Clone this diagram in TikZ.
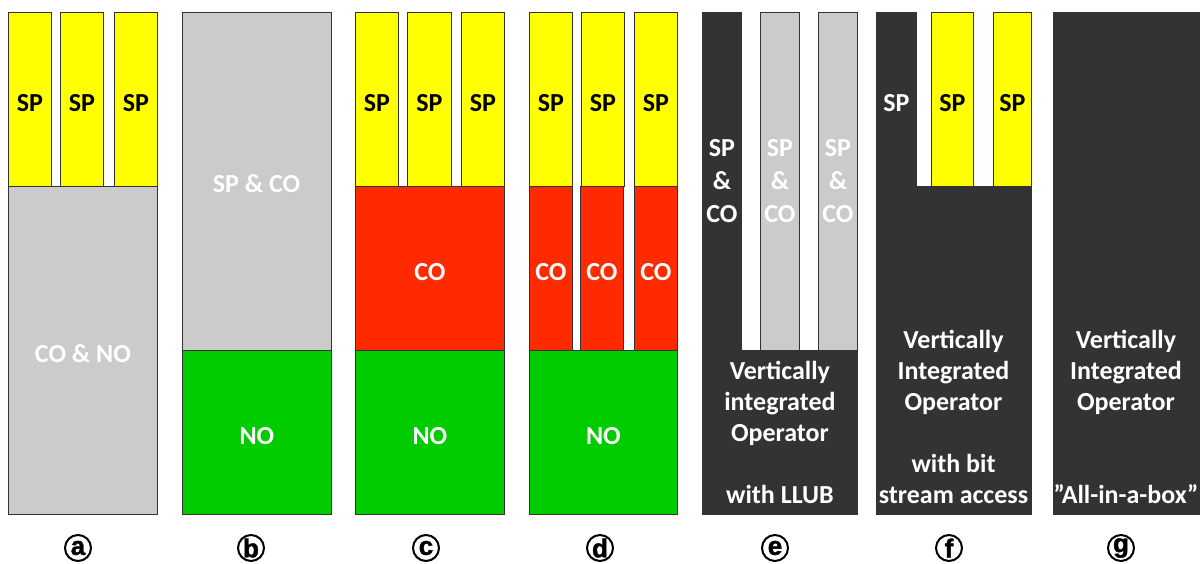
\documentclass[tikz,border=0pt]{standalone}
\usepackage{fontspec}
\setmainfont{Carlito}
\newfontfamily\circfont{Liberation Sans Bold}[FakeBold=1.5]
\definecolor{spy}{HTML}{FFFF00}
\definecolor{lg}{HTML}{CBCBCB}
\definecolor{rd}{HTML}{FF2A00}
\definecolor{gr}{HTML}{00CC00}
\definecolor{dk}{HTML}{333333}
\begin{document}
\begin{tikzpicture}[x=1pt,y=-1pt,
  blk/.style={draw=black!80, line width=0.9pt, anchor=north west, inner sep=0pt,
    font=\fontsize{26}{31}\selectfont\bfseries, align=center},
  lo/.style={text height=24pt, text depth=0pt},
  ybar/.style={blk, lo, fill=spy, text=black, minimum height=174pt},
  txt/.style={font=\fontsize{26}{31}\selectfont\bfseries, text=white, align=center, inner sep=0pt},
  circ/.style={circle, draw=black, line width=2pt, minimum size=26pt, inner sep=0pt,
    font=\circfont\fontsize{26}{26}\selectfont}]
\useasboundingbox (0,0) rectangle (1200,563);
% a
\node[ybar, minimum width=43pt] (a1) at (8,12) {SP};
\node[ybar, minimum width=43pt] (a2) at (60,12) {SP};
\node[ybar, minimum width=43pt] (a3) at (114,12) {SP};
\node[blk, lo, fill=lg, text=white, minimum width=149pt, minimum height=328pt] (a4) at (8,186) {CO \& NO};
% b
\node[blk, fill=lg, minimum width=149pt, minimum height=338pt] (b1) at (182,12) {};
\node[txt] (b1t) at (256.5,184) {SP \& CO};
\node[blk, lo, fill=gr, text=white, minimum width=149pt, minimum height=164pt] (b2) at (182,350) {NO};
% c
\node[ybar, minimum width=43pt] (c1) at (355,12) {SP};
\node[ybar, minimum width=44pt] (c2) at (407,12) {SP};
\node[ybar, minimum width=43pt] (c3) at (461,12) {SP};
\node[blk, lo, fill=rd, text=white, minimum width=149pt, minimum height=164pt] (c4) at (355,186) {CO};
\node[blk, lo, fill=gr, text=white, minimum width=149pt, minimum height=164pt] (c5) at (355,350) {NO};
% d
\node[ybar, minimum width=43pt] (d1) at (529,12) {SP};
\node[ybar, minimum width=43pt] (d2) at (581,12) {SP};
\node[ybar, minimum width=43pt] (d3) at (634,12) {SP};
\node[blk, lo, fill=rd, text=white, minimum width=43pt, minimum height=164pt] (d4) at (529,186) {CO};
\node[blk, lo, fill=rd, text=white, minimum width=43pt, minimum height=164pt] (d5) at (580,186) {CO};
\node[blk, lo, fill=rd, text=white, minimum width=43pt, minimum height=164pt] (d6) at (634,186) {CO};
\node[blk, lo, fill=gr, text=white, minimum width=148pt, minimum height=164pt] (d7) at (529,350) {NO};
% e
\node[blk, fill=dk, text=white, minimum width=39pt, minimum height=338pt, font=\fontsize{26}{33}\selectfont\bfseries] (e1) at (702,12) {SP\\\&\\CO};
\node[blk, fill=lg, text=white, minimum width=39pt, minimum height=338pt, font=\fontsize{26}{33}\selectfont\bfseries] (e2) at (760,12) {SP\\\&\\CO};
\node[blk, fill=lg, text=white, minimum width=39pt, minimum height=338pt, font=\fontsize{26}{33}\selectfont\bfseries] (e3) at (818,12) {SP\\\&\\CO};
\node[blk, fill=dk, text=white, minimum width=155pt, minimum height=164pt] (e4) at (702,350) {Vertically\\integrated\\Operator\\[31pt]with LLUB};
% f
\node[blk, lo, fill=dk, text=white, minimum width=40pt, minimum height=174pt] (f1) at (876,12) {SP};
\node[ybar, minimum width=42pt] (f2) at (931,12) {SP};
\node[ybar, minimum width=38pt] (f3) at (993,12) {SP};
\node[blk, fill=dk, minimum width=155pt, minimum height=328pt] (f4) at (876,186) {};
\node[txt] (f4t) at (953.5,417) {Vertically\\Integrated\\Operator\\[31pt]with bit\\stream access};
% g
\node[blk, fill=dk, minimum width=146pt, minimum height=502pt] (g1) at (1053,12) {};
\node[txt] (g1t) at (1126,417) {Vertically\\Integrated\\Operator\\[62pt]”All-in-a-box”};
% labels
\node[circ] (la) at (78,548) {a};
\node[circ] (lb) at (251,548) {b};
\node[circ] (lc) at (426,548) {c};
\node[circ] (ld) at (600,548) {d};
\node[circ] (le) at (775,548) {e};
\node[circ] (lf) at (949,548) {f};
\node[circ] (lg) at (1121,548) {g};
\end{tikzpicture}
\end{document}
